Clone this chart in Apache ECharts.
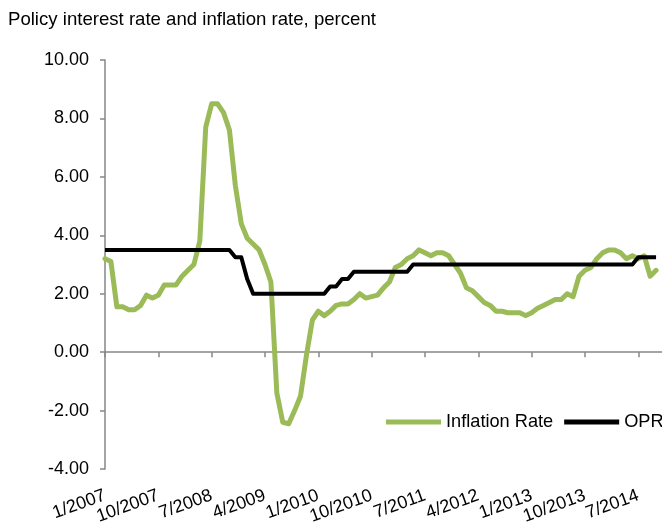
<!DOCTYPE html>
<html>
<head>
<meta charset="utf-8">
<script src="https://cdn.jsdelivr.net/npm/echarts@6/dist/echarts.min.js"></script>
<style>
html,body{margin:0;padding:0;background:#fff;}
#chart{width:662px;height:522px;}
</style>
</head>
<body>
<div id="chart"></div>
<script>
// Months 1/2007 .. 11/2014
var years = [2007, 2008, 2009, 2010, 2011, 2012, 2013, 2014];
var categories = [];
years.forEach(function (y) {
  for (var m = 1; m <= 12; m++) {
    if (y === 2014 && m > 11) break;
    categories.push(m + '/' + y);
  }
});

var inflationRate = [
  // 2007
  3.2, 3.1, 1.55, 1.55, 1.45, 1.45, 1.6, 1.95, 1.85, 1.95, 2.3, 2.3,
  // 2008
  2.3, 2.6, 2.8, 3.0, 3.8, 7.7, 8.5, 8.5, 8.2, 7.6, 5.7, 4.4,
  // 2009
  3.9, 3.7, 3.5, 3.0, 2.4, -1.4, -2.4, -2.45, -2.0, -1.5, -0.1, 1.1,
  // 2010
  1.4, 1.25, 1.4, 1.6, 1.65, 1.65, 1.8, 2.0, 1.85, 1.9, 1.95, 2.2,
  // 2011
  2.4, 2.9, 3.0, 3.2, 3.3, 3.5, 3.4, 3.3, 3.4, 3.4, 3.3, 3.0,
  // 2012
  2.7, 2.2, 2.1, 1.9, 1.7, 1.6, 1.4, 1.4, 1.35, 1.35, 1.35, 1.25,
  // 2013
  1.35, 1.5, 1.6, 1.7, 1.8, 1.8, 2.0, 1.9, 2.6, 2.8, 2.9, 3.2,
  // 2014
  3.4, 3.5, 3.5, 3.4, 3.2, 3.3, 3.2, 3.3, 2.6, 2.8, null
];

var opr = [
  // 2007
  3.5, 3.5, 3.5, 3.5, 3.5, 3.5, 3.5, 3.5, 3.5, 3.5, 3.5, 3.5,
  // 2008
  3.5, 3.5, 3.5, 3.5, 3.5, 3.5, 3.5, 3.5, 3.5, 3.5, 3.25, 3.25,
  // 2009
  2.5, 2.0, 2.0, 2.0, 2.0, 2.0, 2.0, 2.0, 2.0, 2.0, 2.0, 2.0,
  // 2010
  2.0, 2.0, 2.25, 2.25, 2.5, 2.5, 2.75, 2.75, 2.75, 2.75, 2.75, 2.75,
  // 2011
  2.75, 2.75, 2.75, 2.75, 3.0, 3.0, 3.0, 3.0, 3.0, 3.0, 3.0, 3.0,
  // 2012
  3.0, 3.0, 3.0, 3.0, 3.0, 3.0, 3.0, 3.0, 3.0, 3.0, 3.0, 3.0,
  // 2013
  3.0, 3.0, 3.0, 3.0, 3.0, 3.0, 3.0, 3.0, 3.0, 3.0, 3.0, 3.0,
  // 2014
  3.0, 3.0, 3.0, 3.0, 3.0, 3.0, 3.25, 3.25, 3.25, 3.25, null
];

var yTicks = { min: -4, max: 10, interval: 2 };

var FONT = '"Liberation Sans", Arial, sans-serif';
var AXIS_COLOR = '#868686';

var chart = echarts.init(document.getElementById('chart'), null, { renderer: 'canvas' });
chart.setOption({
  animation: false,
  backgroundColor: '#ffffff',
  textStyle: { fontFamily: FONT },
  title: {
    text: 'Policy interest rate and inflation rate, percent',
    left: 8,
    top: 10,
    padding: 0,
    textStyle: { fontFamily: FONT, fontSize: 18.6, fontWeight: 'normal', color: '#000' }
  },
  legend: {
    left: 386,
    top: 413,
    width: 400,
    padding: 0,
    itemGap: 11,
    itemWidth: 55,
    itemHeight: 5,
    icon: 'rect',
    textStyle: { fontFamily: FONT, fontSize: 18.2, color: '#000' },
    data: ['Inflation Rate', 'OPR']
  },
  grid: { left: 105, right: 0, top: 60, bottom: 53, containLabel: false, outerBoundsMode: 'none' },
  xAxis: [
    {
      type: 'category',
      data: categories,
      boundaryGap: false,
      axisLine: { onZero: true, lineStyle: { color: AXIS_COLOR, width: 1.5 } },
      axisTick: { show: true, interval: 8, length: 5, lineStyle: { color: AXIS_COLOR, width: 1.5 } },
      axisLabel: { show: false },
      splitLine: { show: false }
    },
    {
      type: 'category',
      data: categories,
      boundaryGap: false,
      position: 'bottom',
      axisLine: { show: false, onZero: false },
      axisTick: { show: false },
      axisLabel: {
        show: true, interval: 8, rotate: 20, margin: 26,
        fontFamily: FONT, fontSize: 18, color: '#000'
      },
      splitLine: { show: false }
    }
  ],
  yAxis: {
    type: 'value',
    min: yTicks.min,
    max: yTicks.max,
    interval: yTicks.interval,
    axisLine: { show: true, lineStyle: { color: AXIS_COLOR, width: 1.5 } },
    axisTick: { show: true, length: 5, lineStyle: { color: AXIS_COLOR, width: 1.5 } },
    axisLabel: {
      margin: 16, fontFamily: FONT, fontSize: 18, color: '#000',
      formatter: function (v) { return v.toFixed(2); }
    },
    splitLine: { show: false }
  },
  series: [
    {
      name: 'Inflation Rate',
      type: 'line',
      xAxisIndex: 0,
      data: inflationRate,
      showSymbol: false,
      symbol: 'none',
      color: '#9BBB59',
      lineStyle: { color: '#9BBB59', width: 5, cap: 'round', join: 'round' }
    },
    {
      name: 'OPR',
      type: 'line',
      xAxisIndex: 0,
      data: opr,
      showSymbol: false,
      symbol: 'none',
      color: '#000000',
      lineStyle: { color: '#000000', width: 4, join: 'round' }
    }
  ]
});
</script>
</body>
</html>
